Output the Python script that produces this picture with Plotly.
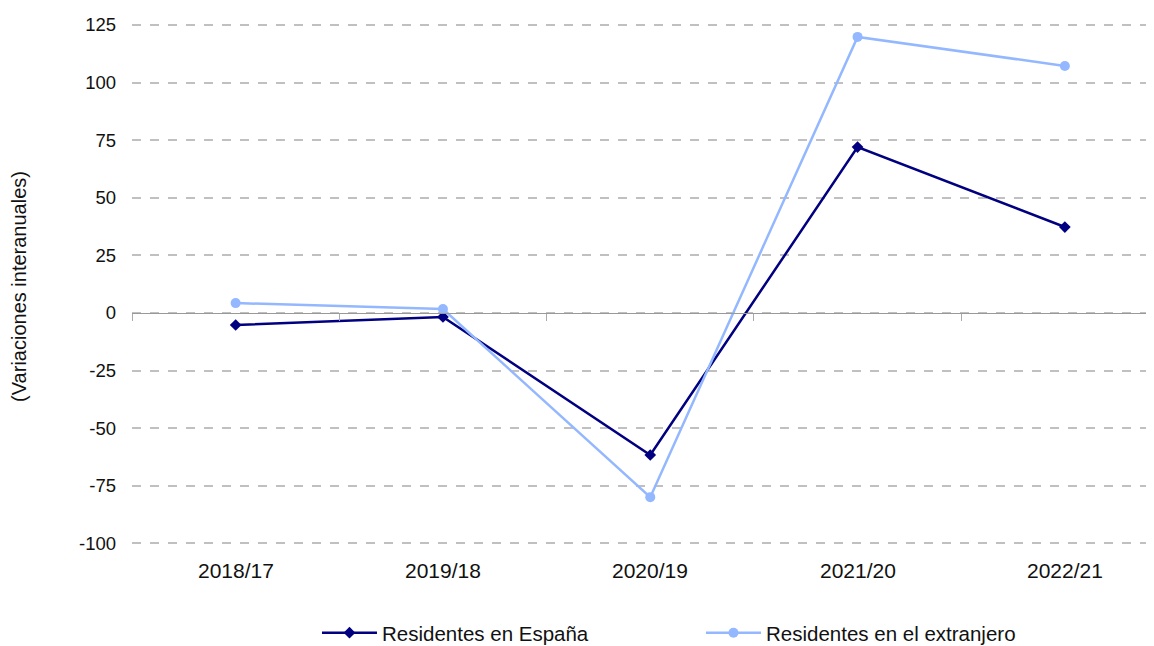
import plotly.graph_objects as go

categories = ["2018/17", "2019/18", "2020/19", "2021/20", "2022/21"]
espana = [-5.2, -1.7, -61.6, 72.0, 37.3]
extranjero = [4.3, 1.7, -79.9, 119.8, 107.2]
y_ticks = [-100, -75, -50, -25, 0, 25, 50, 75, 100, 125]

FONT = "Liberation Sans, Arial, Helvetica, sans-serif"

fig = go.Figure()
fig.add_trace(go.Scatter(
    x=categories, y=espana, name="Residentes en España",
    mode="lines+markers",
    line=dict(color="#000080", width=2.5),
    marker=dict(symbol="diamond", size=9, color="#000080"),
))
fig.add_trace(go.Scatter(
    x=categories, y=extranjero, name="Residentes en el extranjero",
    mode="lines+markers",
    line=dict(color="#94b8ff", width=2.5),
    marker=dict(symbol="circle", size=10, color="#94b8ff"),
))

for c in categories:
    fig.add_annotation(x=c, y=0, xref="x", yref="paper", text=c, showarrow=False,
                       yanchor="top", yshift=-2, font=dict(size=21, color="#111", family=FONT))

ymin, ymax = -105, 128
fig.update_layout(
    width=1146, height=638,
    margin=dict(l=124, r=0, t=10, b=91, autoexpand=False),
    paper_bgcolor="white", plot_bgcolor="white",
    font=dict(family=FONT, size=18, color="#111"),
    showlegend=True,
    legend=dict(orientation="h", x=0.181, xanchor="left", y=-0.145, yanchor="middle",
                font=dict(size=20.5, color="#111"), entrywidth=314, entrywidthmode="pixels",
                itemwidth=55),
    xaxis=dict(
        type="category", range=[-0.5, 4.43],
        anchor="free", position=(0 - ymin) / (ymax - ymin),
        showline=True, linecolor="#999", linewidth=1.3,
        ticks="outside", ticklen=7, tickcolor="#aaa", tickwidth=1.3,
        tickson="boundaries", showticklabels=False, showgrid=False,
    ),
    yaxis=dict(
        range=[ymin, ymax], tickvals=y_ticks, ticktext=[str(v) for v in y_ticks],
        showgrid=True, gridcolor="#c0c0c0", gridwidth=1.5, griddash="dash",
        zeroline=False, showline=False, ticks="", ticklabelstandoff=15,
        title=dict(text="(Variaciones interanuales)", font=dict(size=20, color="#111"), standoff=55),
        tickfont=dict(size=18.5, color="#111"),
    ),
)
fig.write_html("out.html")
